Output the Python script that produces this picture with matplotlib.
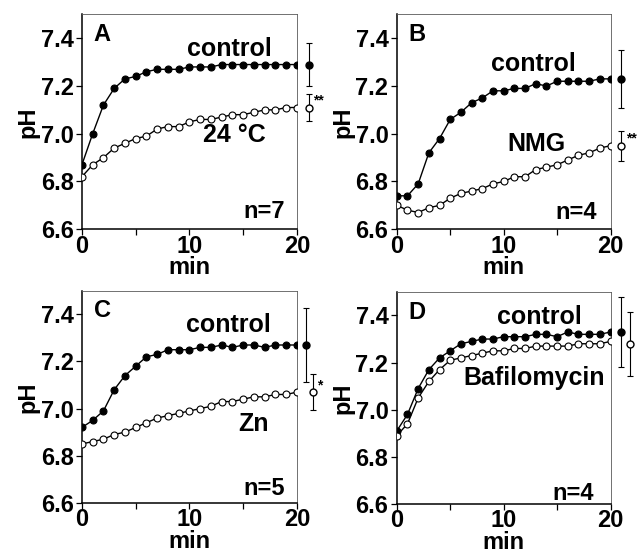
import numpy as np
import matplotlib
matplotlib.use("Agg")
import matplotlib.pyplot as plt

plt.rcParams['font.family'] = ['Liberation Sans', 'DejaVu Sans']
plt.rcParams['font.weight'] = 'bold'
plt.rcParams['axes.labelweight'] = 'bold'

minutes = np.arange(21)

# pH recovery, control (filled) vs treatment (open), one value per minute
a_control = [6.87, 7.00, 7.12, 7.19, 7.23, 7.24, 7.26, 7.27, 7.27, 7.27, 7.28,
             7.28, 7.28, 7.29, 7.29, 7.29, 7.29, 7.29, 7.29, 7.29, 7.29]
a_treated = [6.82, 6.87, 6.90, 6.94, 6.96, 6.98, 6.99, 7.02, 7.03, 7.03, 7.05,
             7.06, 7.06, 7.07, 7.08, 7.08, 7.09, 7.10, 7.10, 7.11, 7.11]

b_control = [6.74, 6.74, 6.79, 6.92, 6.98, 7.06, 7.09, 7.13, 7.15, 7.18, 7.18,
             7.19, 7.19, 7.21, 7.20, 7.22, 7.22, 7.22, 7.22, 7.23, 7.23]
b_treated = [6.70, 6.68, 6.67, 6.69, 6.70, 6.73, 6.75, 6.76, 6.77, 6.79, 6.80,
             6.82, 6.82, 6.85, 6.86, 6.87, 6.89, 6.91, 6.92, 6.94, 6.95]

c_control = [6.92, 6.95, 6.99, 7.08, 7.14, 7.18, 7.22, 7.23, 7.25, 7.25, 7.25,
             7.26, 7.26, 7.27, 7.26, 7.27, 7.27, 7.26, 7.27, 7.27, 7.27]
c_treated = [6.85, 6.86, 6.87, 6.89, 6.90, 6.92, 6.94, 6.96, 6.97, 6.98, 6.99,
             7.00, 7.01, 7.03, 7.03, 7.04, 7.05, 7.05, 7.06, 7.06, 7.07]

d_control = [6.91, 6.98, 7.09, 7.17, 7.22, 7.25, 7.28, 7.29, 7.30, 7.30, 7.31,
             7.31, 7.31, 7.32, 7.32, 7.31, 7.33, 7.32, 7.32, 7.32, 7.33]
d_treated = [6.89, 6.94, 7.05, 7.12, 7.17, 7.21, 7.22, 7.23, 7.24, 7.25, 7.25,
             7.26, 7.26, 7.27, 7.27, 7.27, 7.27, 7.28, 7.28, 7.28, 7.29]

# final mean +/- SEM (control, treated) and significance marks
final_mean = [(7.29, 7.11), (7.23, 6.95), (7.27, 7.07), (7.33, 7.28)]
final_sem = [(0.09, 0.055), (0.12, 0.063), (0.157, 0.075), (0.15, 0.135)]
stars = ['**', '**', '*', '']

letters = ['A', 'B', 'C', 'D']
treatments = ['24 °C', 'NMG', 'Zn', 'Bafilomycin']
n_cells = [7, 4, 5, 4]

controls = [a_control, b_control, c_control, d_control]
treated = [a_treated, b_treated, c_treated, d_treated]

# axes rectangles and where the summary points / labels go
rects = [[0.128, 0.587, 0.336, 0.387], [0.620, 0.587, 0.334, 0.387],
         [0.128, 0.094, 0.336, 0.382], [0.620, 0.092, 0.334, 0.382]]
err_x = [(21.1, 21.1), (21.0, 21.0), (20.8, 21.5), (21.0, 21.8)]
ctrl_pos = [(13.7, 7.355), (12.8, 7.294), (13.6, 7.353), (13.3, 7.393)]
treat_pos = [(14.2, 6.994), (13.1, 6.956), (16.0, 6.936), (12.85, 7.133)]
n_pos = [(16.9, 6.674), (16.8, 6.668), (16.9, 6.660), (16.5, 6.646)]

fig = plt.figure(figsize=(6.4, 5.55), dpi=100)

for i in range(4):
    ax = fig.add_axes(rects[i])
    ax.plot(minutes, controls[i], '-o', color='black', lw=1.0, ms=5,
            mfc='black', mec='black', mew=0.8, zorder=3)
    ax.plot(minutes, treated[i], '-o', color='black', lw=1.0, ms=5,
            mfc='white', mec='black', mew=0.8, zorder=3)

    xc, xt = err_x[i]
    mc, mt = final_mean[i]
    sc, st = final_sem[i]
    ax.errorbar(xc, mc, yerr=sc, fmt='o', color='black', ms=5, mfc='black',
                elinewidth=0.8, capsize=2.5, capthick=0.8, clip_on=False)
    ax.errorbar(xt, mt, yerr=st, fmt='o', color='black', ms=5, mfc='white',
                elinewidth=0.8, capsize=2.5, capthick=0.8, clip_on=False)
    if stars[i]:
        ax.text(xt + 0.4, mt + 0.03, stars[i], fontsize=10, ha='left',
                va='center', clip_on=False)

    ax.text(*ctrl_pos[i], 'control', fontsize=18, ha='center', va='center')
    ax.text(*treat_pos[i], treatments[i], fontsize=18, ha='center', va='center')
    ax.text(*n_pos[i], 'n=%d' % n_cells[i], fontsize=17, ha='center', va='center')
    ax.text(0.055, 0.905, letters[i], transform=ax.transAxes, fontsize=17,
            ha='left', va='center')

    ax.set_xlim(0, 20)
    ax.set_ylim(6.6, 7.5)
    ax.set_xticks([0, 5, 10, 15, 20])
    ax.set_xticklabels(['0', '', '10', '', '20'], fontweight='bold')
    ax.set_yticks([6.6, 6.8, 7.0, 7.2, 7.4])
    ax.set_yticklabels(['6.6', '6.8', '7.0', '7.2', '7.4'], fontweight='bold')
    ax.tick_params(axis='both', direction='out', length=4, width=0.9,
                   labelsize=17, pad=2)
    ax.tick_params(axis='x', pad=0)
    for side in ['left', 'bottom']:
        ax.spines[side].set_linewidth(1.1)
    for side in ['top', 'right']:
        ax.spines[side].set_linewidth(0.6)
        ax.spines[side].set_color('0.35')
    ax.set_xlabel('min', fontsize=17, fontweight='bold', labelpad=-1)
    ax.set_ylabel('pH', fontsize=17, fontweight='bold', labelpad=1)

fig.savefig('out.png', dpi=100)
